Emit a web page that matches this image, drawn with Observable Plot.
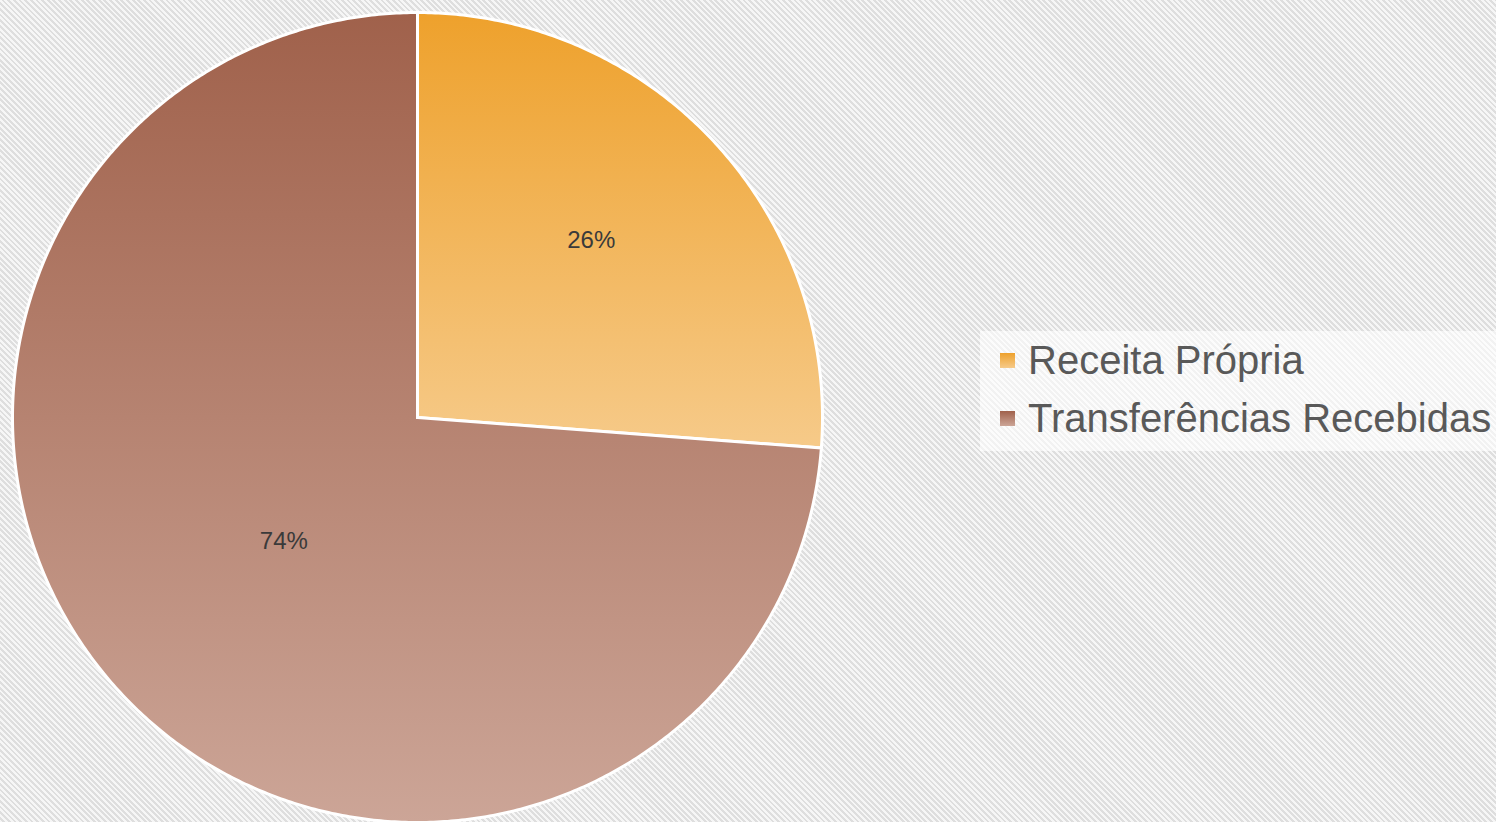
<!DOCTYPE html>
<html>
<head>
<meta charset="utf-8">
<script src="https://cdn.jsdelivr.net/npm/d3@7"></script>
<script src="https://cdn.jsdelivr.net/npm/@observablehq/plot@0.6"></script>
<style>
  html, body { margin: 0; padding: 0; }
  body {
    width: 1496px; height: 822px; overflow: hidden; position: relative;
    background: repeating-linear-gradient(45deg, #f6f6f6 0px, #f6f6f6 2px, #dedede 2px, #dedede 4px);
    font-family: "Liberation Sans", Arial, sans-serif;
  }
  #chart { position: absolute; left: 0; top: 0; }
  #legend {
    position: absolute; left: 980px; top: 331px; width: 516px; height: 120px;
    background: rgba(255,255,255,0.62);
  }
  .item { position: absolute; left: 20px; display: flex; align-items: center; height: 50px; }
  .sw { width: 15px; height: 15px; margin-right: 13px; }
  .lab { font-size: 40px; color: #595959; white-space: nowrap; }
</style>
</head>
<body>
<div id="chart"></div>
<div id="legend"></div>
<script>
const categories = ["Receita Própria", "Transferências Recebidas"];
const values = [26.2, 73.8];
const labels = ["26%", "74%"];

const gradients = [
  ["#eea12c", "#f6ca89"],
  ["#a0614b", "#cca597"]
];

const pie = d3.pie().sort(null)(values);

// build polygon rows for each slice (center + arc) from pie angles
const sliceRows = pie.map((p, i) => {
  const rows = [{cat: categories[i], x: 0, y: 0}];
  const n = Math.max(2, Math.ceil((p.endAngle - p.startAngle) / (Math.PI / 360)));
  for (let k = 0; k <= n; k++) {
    const a = p.startAngle + (p.endAngle - p.startAngle) * k / n;
    rows.push({cat: categories[i], x: Math.sin(a), y: Math.cos(a)});
  }
  return rows;
});

const labelFrac = [0.585, 0.45];
const labelDy = [-16, 0];
const labelRows = pie.map((p, i) => {
  const a = (p.startAngle + p.endAngle) / 2;
  return {text: labels[i], x: labelFrac[i] * Math.sin(a), y: labelFrac[i] * Math.cos(a)};
});

const plot = Plot.plot({
  width: 1496,
  height: 822,
  marginLeft: 12,
  marginRight: 674,
  marginTop: 12,
  marginBottom: 0,
  x: {domain: [-1, 1], axis: null},
  y: {domain: [-1, 1], axis: null},
  style: {background: "transparent", overflow: "visible"},
  marks: [
    ...sliceRows.map((rows, i) => Plot.line(rows, {
      x: "x", y: "y", curve: "linear-closed",
      fill: `url(#grad${i})`, stroke: "white", strokeWidth: 3,
      strokeLinejoin: "miter", strokeMiterlimit: 4
    })),
    ...labelRows.map((r, i) => Plot.text([r], {
      x: "x", y: "y", text: "text", fontSize: 24, fill: "#3a3a3a",
      fontFamily: "Liberation Sans, Arial, sans-serif", dy: labelDy[i]
    }))
  ]
});

const defs = d3.select(plot).insert("defs", ":first-child");
gradients.forEach((g, i) => {
  const lg = defs.append("linearGradient").attr("id", `grad${i}`)
    .attr("x1", 0).attr("y1", 0).attr("x2", 0).attr("y2", 1);
  lg.append("stop").attr("offset", "0%").attr("stop-color", g[0]);
  lg.append("stop").attr("offset", "100%").attr("stop-color", g[1]);
});

document.getElementById("chart").appendChild(plot);

const legend = d3.select("#legend");
categories.forEach((c, i) => {
  const item = legend.append("div").attr("class", "item").style("top", `${4 + i * 58}px`);
  item.append("div").attr("class", "sw")
    .style("background", `linear-gradient(${gradients[i][0]}, ${gradients[i][1]})`);
  item.append("div").attr("class", "lab").text(c);
});
</script>
</body>
</html>
